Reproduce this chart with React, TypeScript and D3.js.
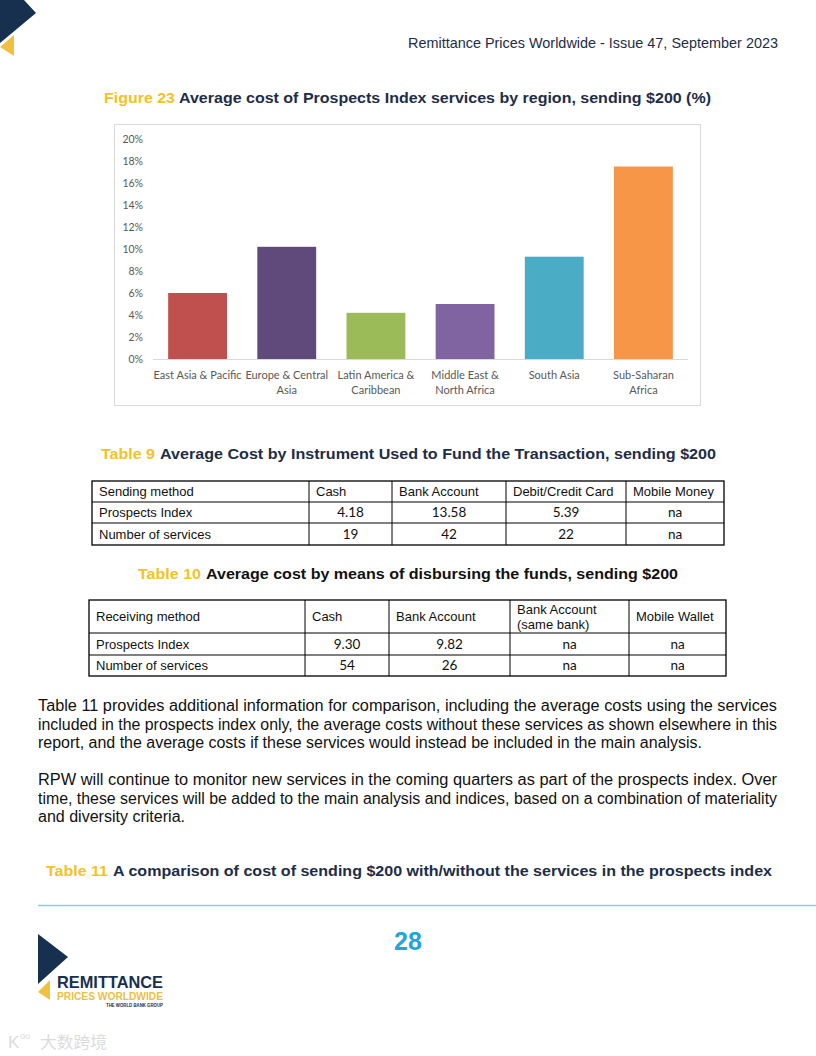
import React from "react";
import * as d3 from "d3";

const regions = [
  "East Asia & Pacific",
  "Europe & Central Asia",
  "Latin America & Caribbean",
  "Middle East & North Africa",
  "South Asia",
  "Sub-Saharan Africa",
];
const regionLabelLines = [
  ["East Asia & Pacific"],
  ["Europe & Central", "Asia"],
  ["Latin America &", "Caribbean"],
  ["Middle East &", "North Africa"],
  ["South Asia"],
  ["Sub-Saharan", "Africa"],
];
const avgCost = [6.0, 10.2, 4.2, 5.0, 9.3, 17.5];
const barColors = ["#C0504D", "#604A7B", "#9BBB59", "#8064A2", "#4BACC6", "#F79646"];
const yTicks = [0, 2, 4, 6, 8, 10, 12, 14, 16, 18, 20];

const t9Header = ["Sending method", "Cash", "Bank Account", "Debit/Credit Card", "Mobile Money"];
const t9Rows = [
  ["Prospects Index", "4.18", "13.58", "5.39", "na"],
  ["Number of services", "19", "42", "22", "na"],
];
const t10Header = ["Receiving method", "Cash", "Bank Account", "Bank Account\n(same bank)", "Mobile Wallet"];
const t10Rows = [
  ["Prospects Index", "9.30", "9.82", "na", "na"],
  ["Number of services", "54", "26", "na", "na"],
];

const paragraphLines = [
  { t: "Table 11 provides additional information for comparison, including the average costs using the services", w: 739 },
  { t: "included in the prospects index only, the average costs without these services as shown elsewhere in this", w: 739 },
  { t: "report, and the average costs if these services would instead be included in the main analysis.", w: 664 },
  { t: "RPW will continue to monitor new services in the coming quarters as part of the prospects index. Over", w: 739 },
  { t: "time, these services will be added to the main analysis and indices, based on a combination of materiality", w: 739 },
  { t: "and diversity criteria.", w: 147 },
];

const NAVY = "#1d2d48";
const GOLD = "#f4c226";
const SANS = "'Liberation Sans', Arial, sans-serif";
const CAL = "Lato, 'Open Sans', sans-serif";

function Table({ x, cols, top, rowHeights, header, rows, numFont }) {
  const bottom = top + rowHeights.reduce((a, b) => a + b, 0);
  const rowTops = [top];
  rowHeights.forEach((h, i) => rowTops.push(rowTops[i] + h));
  const all = [header, ...rows];
  return (
    <g>
      <rect x={x[0]} y={top} width={x[x.length - 1] - x[0]} height={bottom - top} fill="none" stroke="#000" strokeWidth={1.3} />
      {rowTops.slice(1, -1).map((ry, i) => (
        <line key={"h" + i} x1={x[0]} x2={x[x.length - 1]} y1={ry} y2={ry} stroke="#000" strokeWidth={1} />
      ))}
      {x.slice(1, -1).map((cx, i) => (
        <line key={"v" + i} x1={cx} x2={cx} y1={top} y2={bottom} stroke="#000" strokeWidth={1} />
      ))}
      {all.map((row, ri) =>
        row.map((cell, ci) => {
          const cy = rowTops[ri] + rowHeights[ri] / 2;
          const isHeader = ri === 0;
          const left = ci === 0 || isHeader;
          const tx = left ? x[ci] + 7 : (x[ci] + x[ci + 1]) / 2;
          const lines = cell.split("\n");
          return (
            <text
              key={ri + "-" + ci}
              x={tx}
              y={cy + 4.5 - (lines.length - 1) * 7.5}
              textAnchor={left ? "start" : "middle"}
              fontFamily={left ? SANS : numFont}
              fontSize={left ? 13 : 13.5}
              fill="#111"
            >
              {lines.map((l, li) => (
                <tspan key={li} x={tx} dy={li === 0 ? 0 : 15}>
                  {l}
                </tspan>
              ))}
            </text>
          );
        })
      )}
    </g>
  );
}

export default function App() {
  const xScale = d3.scaleBand().domain(regions).range([153, 688]).paddingInner(0.34).paddingOuter(0.17);
  const yScale = d3.scaleLinear().domain([0, 20]).range([359, 139]);

  return (
    <svg width={816} height={1056} style={{ position: "absolute", left: 0, top: 0, background: "#fff" }}>
      <rect width={816} height={1056} fill="#fff" />
      {/* top-left logo */}
      <polygon points="0,0 24,0 36,13 0,43" fill="#17304f" />
      <polygon points="14,35 14,56 0,47" fill="#f0c040" />
      {/* header */}
      <text x={408} y={48} fontFamily={SANS} fontSize={14.5} fill={NAVY} textLength={370} lengthAdjust="spacingAndGlyphs">
        Remittance Prices Worldwide - Issue 47, September 2023
      </text>

      {/* Figure title */}
      <text x={104} y={103} fontFamily={SANS} fontWeight="bold" fontSize={15.5} fill={GOLD} textLength={71} lengthAdjust="spacingAndGlyphs">
        Figure 23
      </text>
      <text x={179} y={103} fontFamily={SANS} fontWeight="bold" fontSize={15.5} fill={NAVY} textLength={532} lengthAdjust="spacingAndGlyphs">
        Average cost of Prospects Index services by region, sending $200 (%)
      </text>

      {/* Chart */}
      <rect x={114.5} y={124.5} width={586} height={281} fill="#fff" stroke="#d9d9d9" strokeWidth={1} />
      {yTicks.map((t) => (
        <text key={t} x={143} y={yScale(t) + 3.5} textAnchor="end" fontFamily={CAL} fontSize={10.5} fill="#595959">
          {t}%
        </text>
      ))}
      {regions.map((r, i) => (
        <rect
          key={r}
          x={xScale(r)}
          y={yScale(avgCost[i])}
          width={xScale.bandwidth()}
          height={yScale(0) - yScale(avgCost[i])}
          fill={barColors[i]}
        />
      ))}
      <line x1={153} x2={688} y1={yScale(0) + 0.5} y2={yScale(0) + 0.5} stroke="#d9d9d9" strokeWidth={1} />
      {regions.map((r, i) => (
        <text key={r} textAnchor="middle" fontFamily={CAL} fontSize={11} fill="#595959">
          {regionLabelLines[i].map((l, li) => (
            <tspan key={li} x={(xScale(r) || 0) + xScale.bandwidth() / 2} y={379 + li * 15}>
              {l}
            </tspan>
          ))}
        </text>
      ))}

      {/* Table 9 */}
      <text x={101} y={459} fontFamily={SANS} fontWeight="bold" fontSize={15.5} fill={GOLD} textLength={54} lengthAdjust="spacingAndGlyphs">
        Table 9
      </text>
      <text x={160} y={459} fontFamily={SANS} fontWeight="bold" fontSize={15.5} fill={NAVY} textLength={556} lengthAdjust="spacingAndGlyphs">
        Average Cost by Instrument Used to Fund the Transaction, sending $200
      </text>
      <Table x={[92, 309, 392, 506, 626, 724]} top={481} rowHeights={[21, 21, 22]} header={t9Header} rows={t9Rows} numFont={CAL} />

      {/* Table 10 */}
      <text x={138} y={579} fontFamily={SANS} fontWeight="bold" fontSize={15.5} fill={GOLD} textLength={63} lengthAdjust="spacingAndGlyphs">
        Table 10
      </text>
      <text x={206} y={579} fontFamily={SANS} fontWeight="bold" fontSize={15.5} fill="#111" textLength={472} lengthAdjust="spacingAndGlyphs">
        Average cost by means of disbursing the funds, sending $200
      </text>
      <Table x={[89, 305, 389, 510, 629, 726]} top={600} rowHeights={[33, 22, 21]} header={t10Header} rows={t10Rows} numFont={CAL} />

      {/* Paragraphs */}
      {paragraphLines.map((p, i) => (
        <text
          key={i}
          x={38}
          y={711 + i * 18.5 + (i >= 3 ? 18.5 : 0)}
          fontFamily={SANS}
          fontSize={16}
          fill="#111"
          textLength={p.w}
          lengthAdjust="spacingAndGlyphs"
        >
          {p.t}
        </text>
      ))}

      {/* Table 11 title */}
      <text x={46} y={876} fontFamily={SANS} fontWeight="bold" fontSize={15.5} fill={GOLD} textLength={62} lengthAdjust="spacingAndGlyphs">
        Table 11
      </text>
      <text x={113} y={876} fontFamily={SANS} fontWeight="bold" fontSize={15.5} fill={NAVY} textLength={659} lengthAdjust="spacingAndGlyphs">
        A comparison of cost of sending $200 with/without the services in the prospects index
      </text>

      {/* Footer */}
      <line x1={38} x2={816} y1={905.5} y2={905.5} stroke="#8ccbe0" strokeWidth={1.5} />
      <text x={408} y={950} textAnchor="middle" fontFamily={SANS} fontWeight="bold" fontSize={25} fill="#27a3dc">
        28
      </text>
      <polygon points="38,934 68,957 38,984" fill="#17304f" />
      <polygon points="50,980 50,1000 38,992" fill="#f0c040" />
      <text x={57} y={988} fontFamily={SANS} fontWeight="bold" fontSize={16.5} fill="#17304f" textLength={106} lengthAdjust="spacingAndGlyphs">
        REMITTANCE
      </text>
      <text x={57} y={1000} fontFamily={SANS} fontWeight="bold" fontSize={10.5} fill="#e9bf45" textLength={106} lengthAdjust="spacingAndGlyphs">
        PRICES WORLDWIDE
      </text>
      <text x={106} y={1007} fontFamily={SANS} fontWeight="bold" fontSize={4.5} fill="#17304f" textLength={57} lengthAdjust="spacingAndGlyphs">
        THE WORLD BANK GROUP
      </text>

      {/* watermark */}
      <text x={8} y={1048} fontFamily={SANS} fontSize={17} fill="#dcdcdc">
        K
      </text>
      <text x={20} y={1039} fontFamily={SANS} fontSize={9} fill="#dcdcdc">
        oo
      </text>
      <text x={40} y={1048} fontFamily="'Noto Sans CJK SC', sans-serif" fontSize={16} fill="#dcdcdc" textLength={67} lengthAdjust="spacingAndGlyphs">
        大数跨境
      </text>
    </svg>
  );
}
